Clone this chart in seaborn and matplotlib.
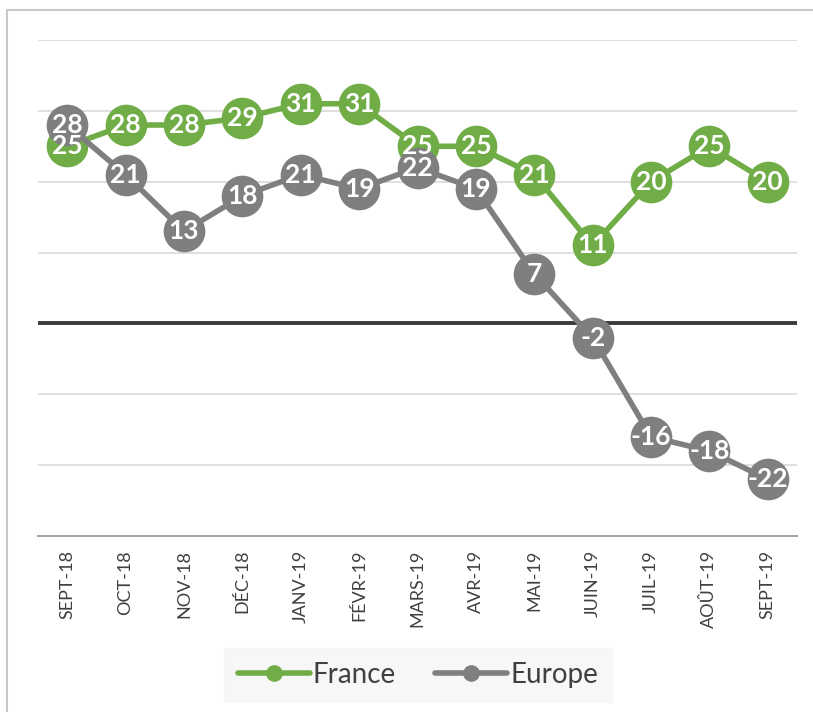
import numpy as np
import pandas as pd
import matplotlib
matplotlib.use("Agg")
import matplotlib.pyplot as plt
import seaborn as sns
from matplotlib.patches import Rectangle
from matplotlib.lines import Line2D

months = ["SEPT-18", "OCT-18", "NOV-18", "DÉC-18", "JANV-19", "FÉVR-19", "MARS-19",
          "AVR-19", "MAI-19", "JUIN-19", "JUIL-19", "AOÛT-19", "SEPT-19"]
france = [25, 28, 28, 29, 31, 31, 25, 25, 21, 11, 20, 25, 20]
europe = [28, 21, 13, 18, 21, 19, 22, 19, 7, -2, -16, -18, -22]

green = "#70AD47"
grey = "#7F7F7F"

sns.set_style("white")
plt.rcParams['font.family'] = ['Lato', 'DejaVu Sans']

df = pd.DataFrame({"x": list(range(len(months))) * 2,
                   "value": france + europe,
                   "serie": ["France"] * len(months) + ["Europe"] * len(months)})

fig = plt.figure(figsize=(8.13, 7.12), dpi=100)
ax = fig.add_axes([38 / 813, 1 - 536 / 712, (797 - 38) / 813, (536 - 40) / 712])

# outer frame
fig.patches.append(Rectangle((7 / 813, -0.05), 1.1, 1 - 10 / 712 + 0.05,
                             transform=fig.transFigure, fill=False,
                             edgecolor="#C8C8C8", linewidth=1.5, zorder=0))

for y in [-20, -10, 10, 20, 30, 40]:
    ax.axhline(y, color="#D9D9D9", linewidth=1.2, zorder=0)
ax.axhline(0, color="#3A3A3A", linewidth=2.8, zorder=1)

sns.lineplot(data=df, x="x", y="value", hue="serie", hue_order=["France", "Europe"],
             palette=[green, grey], marker="o", markersize=30, linewidth=4,
             markeredgewidth=0, legend=False, ax=ax, zorder=3)

for vals in (france, europe):
    for i, v in enumerate(vals):
        ax.text(i, v, str(v), ha="center", va="center", color="white",
                fontsize=19, fontweight="bold", zorder=5)

ax.set_xlim(-0.5, 12.5)
ax.set_ylim(-30, 40)
ax.set_yticks([])
ax.set_xticks(range(len(months)))
ax.set_xticklabels(months, rotation=90, fontsize=13, color="#404040")
ax.tick_params(axis="x", length=0, pad=10)
ax.set_xlabel("")
ax.set_ylabel("")
for s in ["top", "left", "right"]:
    ax.spines[s].set_visible(False)
ax.spines["bottom"].set_color("#A6A6A6")
ax.spines["bottom"].set_linewidth(1.5)

handles = [Line2D([], [], color=green, linewidth=4, marker="o", markersize=11),
           Line2D([], [], color=grey, linewidth=4, marker="o", markersize=11)]
leg = fig.legend(handles, ["France", "Europe"], loc="center",
                 bbox_to_anchor=(418 / 813, 1 - 675 / 712), ncol=2,
                 fontsize=20, frameon=True, fancybox=False, handlelength=2.6,
                 handletextpad=0.1, columnspacing=1.4, borderpad=0.5)
leg.get_frame().set_facecolor("#F5F5F5")
leg.get_frame().set_edgecolor("#F5F5F5")
for t in leg.get_texts():
    t.set_color("#404040")

fig.savefig("out.png", dpi=100)
